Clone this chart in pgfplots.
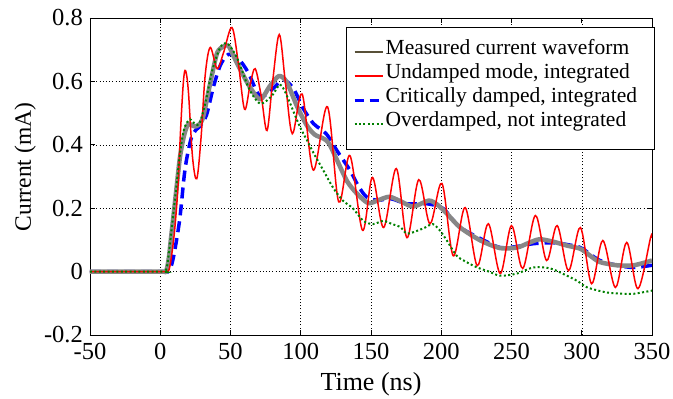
\documentclass[border=0pt]{standalone}
\usepackage{fontspec}
\setmainfont{Liberation Serif}
\usepackage{pgfplots}
\pgfplotsset{compat=1.18}
\definecolor{measgray}{RGB}{135,135,135}
\definecolor{measolive}{RGB}{88,80,56}
\definecolor{odgreen}{RGB}{0,128,0}
\definecolor{undred}{RGB}{255,0,0}
\begin{document}
\begin{tikzpicture}
\useasboundingbox (-90pt,-64pt) rectangle (583pt,335pt);
\begin{axis}[
  scale only axis, width=562pt, height=317pt,
  xmin=-50, xmax=350, ymin=-0.2, ymax=0.8,
  xtick={-50,0,50,100,150,200,250,300,350},
  xticklabels={-50,0,50,100,150,200,250,300,350},
  ytick={-0.2,0,0.2,0.4,0.6,0.8},
  yticklabels={-0.2,0,0.2,0.4,0.6,0.8},
  tick align=inside, major tick length=5pt,
  ticklabel style={font=\fontsize{24.5}{28}\selectfont},
  xticklabel style={inner sep=2pt, yshift=-6pt},
  yticklabel style={inner sep=2pt, xshift=-5pt},
  grid=major, major grid style={black, line width=0.5pt, dash pattern=on 1pt off 2.2pt},
  axis line style={black, line width=0.8pt},
  tick style={black, line width=0.6pt},
  xlabel={Time (ns)}, ylabel={Current (mA)},
  every axis x label/.style={at={(axis description cs:0.5,-0.174)}, anchor=base, font=\fontsize{26}{30}\selectfont},
  every axis y label/.style={at={(axis description cs:-0.105,0.53)}, rotate=90, anchor=base, font=\fontsize{23.5}{27}\selectfont},
  legend cell align=left,
  legend image code/.code={\draw[mark repeat=2,mark phase=2,#1] plot coordinates {(0pt,0pt) (14pt,0pt) (28pt,0pt)};},
  legend style={at={(axis description cs:1.005,0.972)}, anchor=north east,
    draw=black, line width=0.6pt, fill=white, font=\fontsize{21.5}{24}\selectfont,
    nodes={inner sep=1.5pt, text height=12pt, text depth=8pt}, row sep=1pt,
    inner xsep=7pt, inner ysep=13.5pt},
]
\addlegendimage{measolive, line width=2pt}
\addlegendentry{Measured current waveform}
\addlegendimage{undred, line width=2pt}
\addlegendentry{Undamped mode, integrated}
\addlegendimage{blue, line width=3pt, dash pattern=on 9pt off 6pt}
\addlegendentry{Critically damped, integrated\hspace*{9pt}}
\addlegendimage{odgreen, line width=2pt, dash pattern=on 2pt off 2.4pt}
\addlegendentry{Overdamped, not integrated}
% critically damped
\addplot[blue, line width=3.5pt, dash pattern=on 11pt off 6pt, smooth, tension=0.5, forget plot] coordinates {
(-50,0) (0,0) (5,0) (8,0.02) (10.7,0.076) (14,0.17) (17,0.3) (19,0.36) (22,0.42)
(25,0.445) (28.5,0.46) (33,0.495) (37.7,0.58) (42.7,0.65) (48.4,0.685) (55.5,0.672)
(62.6,0.628) (69,0.565) (73.3,0.553) (80.4,0.578) (87.5,0.605) (94.7,0.578) (101.8,0.514)
(109,0.467) (114,0.45) (119,0.43) (126,0.38) (135,0.32) (141,0.27) (147,0.235) (155,0.225)
(164,0.23) (175.6,0.214) (190,0.214) (201,0.2) (207,0.17) (213.5,0.139) (228,0.104)
(242,0.076) (255,0.08) (265.5,0.088) (280,0.091) (290,0.085) (299,0.076) (306,0.055)
(313,0.035) (325,0.02) (337,0.013) (350,0.02)};
% measured (gray thick)
\addplot[measgray, line width=4.5pt, line join=round, smooth, tension=0.45, forget plot] coordinates {
(-50,0) (0,0) (4,0) (6,0.04) (8,0.12) (11,0.24) (14,0.36) (17,0.43) (20,0.465)
(25,0.458) (30,0.48) (35.6,0.595) (40.5,0.69) (45,0.71) (48.6,0.712) (54.6,0.658)
(63,0.588) (71,0.543) (78,0.585) (84.5,0.617) (90,0.598) (97.5,0.52) (104.5,0.46)
(110,0.432) (116,0.42) (120,0.405) (126,0.35) (133,0.285) (140,0.246) (148,0.216)
(155,0.225) (163,0.236) (171,0.222) (180,0.205) (191,0.224) (197,0.212) (204,0.183)
(213.5,0.139) (228,0.098) (242,0.074) (254,0.076) (262,0.09) (270,0.102) (280,0.094)
(289.5,0.082) (299,0.072) (306,0.05) (313,0.03) (325,0.02) (337,0.02) (350,0.035)};
% undamped
\addplot[undred, line width=1.5pt, smooth, tension=0.55, forget plot] coordinates {
(-50,0) (0,0) (5,0) (7,0.02) (10,0.12) (12.5,0.26) (14.5,0.45) (16.5,0.6) (18,0.634)
(20,0.57) (23,0.36) (26,0.293) (29,0.42) (32,0.62) (35.6,0.707) (40.5,0.64) (45,0.69)
(51,0.77) (55.5,0.66) (60,0.512) (64,0.59) (67.6,0.64) (72,0.55) (76,0.445) (80,0.6)
(84.7,0.748) (89,0.6) (94,0.435) (101,0.56) (109,0.32) (119,0.52) (127,0.22) (135,0.366)
(144,0.13) (151,0.297) (159,0.139) (168,0.325) (175.6,0.107) (184,0.29) (192,0.151)
(200.5,0.278) (208.5,0.05) (217,0.202) (225.6,0.019) (233.5,0.151) (242,-0.006)
(250,0.145) (258,0.01) (267,0.177) (275,0.035) (282.5,0.145) (290.6,0.003) (299,0.139)
(307,-0.038) (315,0.098) (324,-0.05) (332,0.092) (340,-0.054) (349,0.107) (350,0.106)};
% overdamped
\addplot[odgreen, line width=2pt, dash pattern=on 2pt off 2.4pt, smooth, tension=0.5, forget plot] coordinates {
(-50,0) (0,0) (3,0) (5,0.02) (8,0.13) (11,0.25) (14,0.37) (17,0.45) (21,0.48) (25,0.465)
(28,0.468) (32,0.53) (37,0.634) (42.7,0.707) (47.7,0.72) (54.6,0.675) (61.9,0.59)
(66,0.555) (71,0.53) (76,0.54) (80.4,0.56) (85,0.59) (88,0.575) (92.5,0.53) (99.6,0.455)
(105,0.41) (109,0.375) (116,0.32) (123,0.265) (130,0.224) (137,0.2) (144.6,0.16)
(151.6,0.15) (158.7,0.16) (165,0.15) (171,0.14) (175.6,0.12) (183,0.129) (189,0.14)
(194,0.15) (199,0.13) (204,0.098) (211,0.05) (218,0.03) (225.6,0.013) (234,0) (242,-0.013)
(254,-0.006) (265.5,0.013) (277.6,0.01) (289.5,-0.013) (297,-0.03) (304,-0.05) (318,-0.066)
(330,-0.07) (337,-0.07) (350,-0.06)};
\end{axis}
\end{tikzpicture}
\end{document}
